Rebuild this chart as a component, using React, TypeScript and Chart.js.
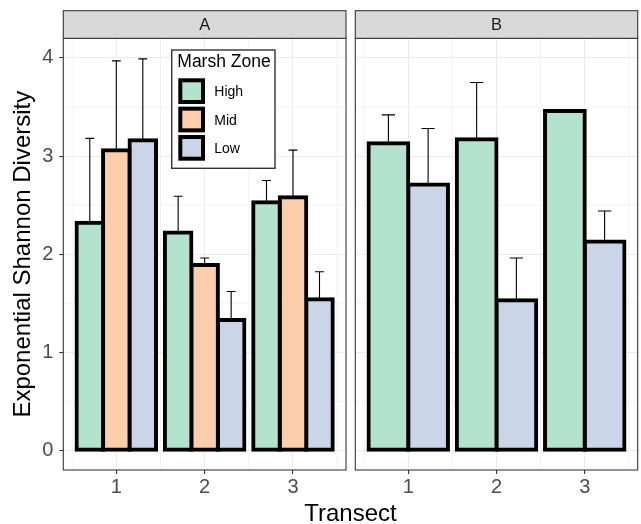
import React, { useEffect, useRef } from "react";
import { Chart, registerables } from "chart.js";

Chart.register(...registerables);

// ---------- data ----------
const transects = [1, 2, 3];
const transectLabels = ["1", "2", "3"];
const yTicks = [0, 1, 2, 3, 4];
const yTickLabels = ["0", "1", "2", "3", "4"];
const yMinorTicks = [0.5, 1.5, 2.5, 3.5];
const xMinorTicks = [0.5, 1.5, 2.5, 3.5];
const zoneNames = ["High", "Mid", "Low"];
const zoneColors = ["#B3E2CD", "#FDCDAC", "#CBD5E8"];

const panelA_high = [2.32, 2.22, 2.53];
const panelA_highUpper = [3.18, 2.59, 2.75];
const panelA_mid = [3.06, 1.89, 2.58];
const panelA_midUpper = [3.97, 1.96, 3.06];
const panelA_low = [3.16, 1.33, 1.54];
const panelA_lowUpper = [3.99, 1.62, 1.82];

const panelB_high = [3.13, 3.17, 3.46];
const panelB_highUpper: (number | null)[] = [3.42, 3.75, null];
const panelB_low = [2.71, 1.53, 2.13];
const panelB_lowUpper = [3.28, 1.96, 2.44];

// ---------- layout / style ----------
const W = 641;
const H = 524;
const PANEL_TOP = 38.3;
const PANEL_BOTTOM = 470;
const A_LEFT = 63.3;
const A_RIGHT = 346;
const B_LEFT = 355.3;
const B_RIGHT = 637.7;
const STRIP_H = 27.6;
const FONT = "'Liberation Sans', Arial, sans-serif";
const ERRORBAR_WIDTH = 0.3;

const panelPlugin = {
  id: "panelDecor",
  beforeDraw(chart: any, _args: any, opts: any) {
    const { ctx, chartArea: a, scales } = chart;
    ctx.save();
    ctx.strokeStyle = "#F2F2F2";
    ctx.lineWidth = 1;
    for (const v of xMinorTicks) {
      const px = scales.x.getPixelForValue(v);
      ctx.beginPath();
      ctx.moveTo(px, a.top);
      ctx.lineTo(px, a.bottom);
      ctx.stroke();
    }
    for (const v of yMinorTicks) {
      const py = scales.y.getPixelForValue(v);
      ctx.beginPath();
      ctx.moveTo(a.left, py);
      ctx.lineTo(a.right, py);
      ctx.stroke();
    }
    ctx.restore();
  },
  afterDraw(chart: any, _args: any, opts: any) {
    const { ctx, chartArea: a } = chart;
    ctx.save();
    ctx.strokeStyle = "#333333";
    ctx.lineWidth = 1.07;
    ctx.strokeRect(a.left, a.top, a.right - a.left, a.bottom - a.top);
    ctx.fillStyle = "#D9D9D9";
    ctx.fillRect(a.left, a.top - STRIP_H, a.right - a.left, STRIP_H);
    ctx.strokeRect(a.left, a.top - STRIP_H, a.right - a.left, STRIP_H);
    ctx.fillStyle = "#1A1A1A";
    ctx.font = `16.5px ${FONT}`;
    ctx.textAlign = "center";
    ctx.textBaseline = "middle";
    ctx.fillText(opts.label, (a.left + a.right) / 2, a.top - STRIP_H / 2 + 1.3);
    if (opts.xTitle) {
      ctx.fillStyle = "#000000";
      ctx.font = `24px ${FONT}`;
      ctx.textBaseline = "alphabetic";
      ctx.fillText(opts.xTitle, opts.xTitleX, opts.xTitleY);
    }
    ctx.restore();
  },
};

const errorBarPlugin = {
  id: "errorBars",
  afterDatasetsDraw(chart: any) {
    const { ctx, scales } = chart;
    const n = chart.data.datasets.length;
    const half =
      (scales.x.getPixelForValue(ERRORBAR_WIDTH / n / 2) - scales.x.getPixelForValue(0));
    ctx.save();
    ctx.strokeStyle = "#000000";
    ctx.lineWidth = 1.1;
    chart.data.datasets.forEach((ds: any, i: number) => {
      const meta = chart.getDatasetMeta(i);
      meta.data.forEach((el: any, j: number) => {
        const up = ds.upper[j];
        if (up === null || up === undefined) return;
        const yTop = scales.y.getPixelForValue(up);
        const yBar = scales.y.getPixelForValue(ds.data[j].y);
        ctx.beginPath();
        ctx.moveTo(el.x, yBar);
        ctx.lineTo(el.x, yTop);
        ctx.moveTo(el.x - half, yTop);
        ctx.lineTo(el.x + half, yTop);
        ctx.stroke();
      });
    });
    ctx.restore();
  },
};

const legendPlugin = {
  id: "zoneLegend",
  afterDraw(chart: any, _args: any, opts: any) {
    if (!opts.show) return;
    const { ctx, chartArea: a } = chart;
    const x0 = a.left + opts.offsetX;
    const y0 = a.top + opts.offsetY;
    ctx.save();
    ctx.fillStyle = "#FFFFFF";
    ctx.fillRect(x0, y0, opts.width, opts.height);
    ctx.strokeStyle = "#333333";
    ctx.lineWidth = 1.4;
    ctx.strokeRect(x0, y0, opts.width, opts.height);
    ctx.fillStyle = "#000000";
    ctx.font = `17.5px ${FONT}`;
    ctx.textAlign = "left";
    ctx.textBaseline = "alphabetic";
    ctx.fillText(opts.title, x0 + 5.6, y0 + 16.7);
    chart.data.datasets.forEach((ds: any, i: number) => {
      const kx = x0 + 6.6;
      const ky = y0 + 28.3 + i * 28.35;
      const kw = 26.7;
      const kh = 25.7;
      ctx.fillStyle = "#000000";
      ctx.fillRect(kx, ky, kw, kh);
      ctx.fillStyle = ds.backgroundColor;
      ctx.fillRect(kx + 4, ky + 4, kw - 8, kh - 8);
      ctx.fillStyle = "#000000";
      ctx.font = `14px ${FONT}`;
      ctx.textBaseline = "middle";
      ctx.fillText(ds.label, x0 + 42.6, ky + 14);
    });
    ctx.restore();
  },
};

function makeDataset(label: string, values: number[], upper: (number | null)[]) {
  const idx = zoneNames.indexOf(label);
  return {
    label,
    data: transects.map((t, i) => ({ x: t, y: values[i] })),
    upper,
    backgroundColor: zoneColors[idx],
    borderColor: "#000000",
    borderWidth: 4,
    borderSkipped: false,
    inflateAmount: 2,
    categoryPercentage: 0.9,
    barPercentage: 1.0,
  };
}

function makeConfig(panel: "A" | "B", datasets: any[]) {
  const isLeft = panel === "A";
  return {
    type: "bar" as const,
    data: { datasets },
    plugins: [panelPlugin, errorBarPlugin, legendPlugin],
    options: {
      responsive: false,
      animation: false,
      devicePixelRatio: 1,
      events: [],
      layout: {
        padding: isLeft
          ? { left: 0, right: W - A_RIGHT, top: PANEL_TOP, bottom: 0 }
          : { left: B_LEFT, right: W - B_RIGHT, top: PANEL_TOP, bottom: 0 },
      },
      scales: {
        x: {
          type: "linear",
          min: 0.4,
          max: 3.6,
          offset: false,
          afterBuildTicks: (s: any) => {
            s.ticks = transects.map((v) => ({ value: v }));
          },
          afterFit: (s: any) => {
            s.height = H - PANEL_BOTTOM;
          },
          ticks: {
            autoSkip: false,
            maxRotation: 0,
            padding: 1.5,
            color: "#4D4D4D",
            font: { family: FONT, size: 20 },
            callback: (v: number) => transectLabels[transects.indexOf(v)],
          },
          grid: {
            offset: false,
            color: "#EBEBEB",
            lineWidth: 1.07,
            drawTicks: true,
            tickLength: 4,
            tickColor: "#333333",
            tickWidth: 1.07,
          },
          border: { display: false },
        },
        y: {
          type: "linear",
          min: -0.2,
          max: 4.2,
          afterBuildTicks: (s: any) => {
            s.ticks = yTicks.map((v) => ({ value: v }));
          },
          afterFit: (s: any) => {
            s.width = isLeft ? A_LEFT : 0;
          },
          ticks: {
            display: isLeft,
            padding: 6,
            color: "#4D4D4D",
            font: { family: FONT, size: 20 },
            callback: (v: number) => yTickLabels[yTicks.indexOf(v)],
          },
          grid: {
            color: "#EBEBEB",
            lineWidth: 1.07,
            drawTicks: isLeft,
            tickLength: 4,
            tickColor: "#333333",
            tickWidth: 1.07,
          },
          border: { display: false },
          title: {
            display: isLeft,
            text: "Exponential Shannon Diversity",
            color: "#000000",
            font: { family: FONT, size: 24, lineHeight: 1 },
            padding: { top: 11.4, bottom: 0 },
          },
        },
      },
      plugins: {
        legend: { display: false },
        tooltip: { enabled: false },
        panelDecor: {
          label: panel,
          xTitle: isLeft ? "Transect" : "",
          xTitleX: (A_LEFT + B_RIGHT) / 2,
          xTitleY: 520.5,
        },
        zoneLegend: {
          show: isLeft,
          title: "Marsh Zone",
          offsetX: 108.4,
          offsetY: 11.7,
          width: 103.3,
          height: 118.3,
        },
      },
    },
  };
}

export default function App() {
  const leftRef = useRef<HTMLCanvasElement>(null);
  const rightRef = useRef<HTMLCanvasElement>(null);

  useEffect(() => {
    const left = new Chart(
      leftRef.current as HTMLCanvasElement,
      makeConfig("A", [
        makeDataset("High", panelA_high, panelA_highUpper),
        makeDataset("Mid", panelA_mid, panelA_midUpper),
        makeDataset("Low", panelA_low, panelA_lowUpper),
      ]) as any
    );
    const right = new Chart(
      rightRef.current as HTMLCanvasElement,
      makeConfig("B", [
        makeDataset("High", panelB_high, panelB_highUpper),
        makeDataset("Low", panelB_low, panelB_lowUpper),
      ]) as any
    );
    return () => {
      left.destroy();
      right.destroy();
    };
  }, []);

  return (
    <div style={{ position: "absolute", left: 0, top: 0, width: W, height: H, background: "#FFFFFF" }}>
      <canvas ref={leftRef} width={W} height={H} style={{ position: "absolute", left: 0, top: 0 }} />
      <canvas ref={rightRef} width={W} height={H} style={{ position: "absolute", left: 0, top: 0 }} />
    </div>
  );
}
